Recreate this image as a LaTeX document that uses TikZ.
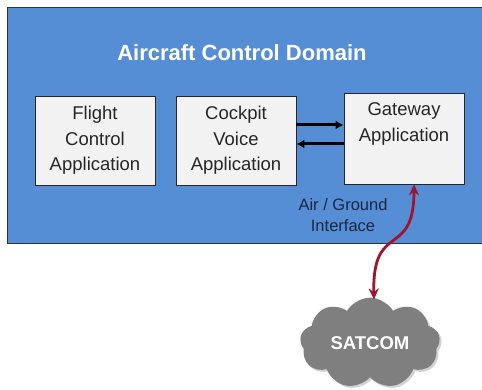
\documentclass[tikz,border=0pt]{standalone}
\usepackage{fontspec}
\setmainfont{Liberation Sans}
\usetikzlibrary{shapes.symbols,shadows,arrows.meta}
\definecolor{D}{RGB}{85,142,213}
\definecolor{B}{RGB}{242,242,242}
\definecolor{R}{RGB}{160,20,45}
\definecolor{N}{RGB}{28,38,64}
\definecolor{S}{RGB}{127,127,127}
\def\BoxW{120}
\def\BoxH{89}

\begin{document}
\begin{tikzpicture}[x=1pt,y=1pt,
    app/.style={draw=black!85,fill=B,line width=0.8pt,minimum width=\BoxW pt,minimum height=\BoxH pt,align=center,
        font=\fontsize{18.5}{25.5}\selectfont,text=black!85,inner sep=0pt},
    flow/.style={line width=3pt,-{Latex[length=8pt,width=9pt]}},
    link/.style={R,line width=2.8pt,{Stealth[length=11pt,width=10pt]}-{Stealth[length=11pt,width=10pt]}}]
    \path[use as bounding box] (0,0) rectangle (482,390);
    \fill[white] (0,0) rectangle (482,390);
    \path[draw=black!80,fill=D,line width=0.8pt] (7,147) rectangle (490,383);
    \node[white,font=\fontsize{22}{26}\selectfont\bfseries] (title) at (242,337) {Aircraft Control Domain};
    \node[app] (fc) at (95,249.5) {Flight\\Control\\Application};
    \node[app] (cv) at (236,249.5) {Cockpit\\Voice\\Application};
    \node[app,minimum height=91pt] (gw) at (404,251.5) {Gateway\\Application\\\strut};
    \draw[flow] (cv.east |- 0,265) -- (gw.west |- 0,265);
    \draw[flow] (gw.west |- 0,246) -- (cv.east |- 0,246);
    \node[N,align=center,font=\fontsize{16.5}{21}\selectfont] (agi) at (343,175) {Air / Ground\\Interface};
    \node[cloud,cloud puffs=9,cloud puff arc=120,aspect=1.7,fill=S,minimum width=140pt,minimum height=80pt,
        drop shadow={shadow xshift=2pt,shadow yshift=-2pt,opacity=0.35},
        text=white,font=\fontsize{18.5}{22}\selectfont\bfseries] (sat) at (370,47) {SATCOM};
    \coordinate (gwb) at ([xshift=10pt]gw.south);
    \coordinate (satn) at ([xshift=4pt,yshift=-2pt]sat.north);
    \draw[link] (gwb) .. controls (414,130) and (372,170) .. (satn);
\end{tikzpicture}
\end{document}
